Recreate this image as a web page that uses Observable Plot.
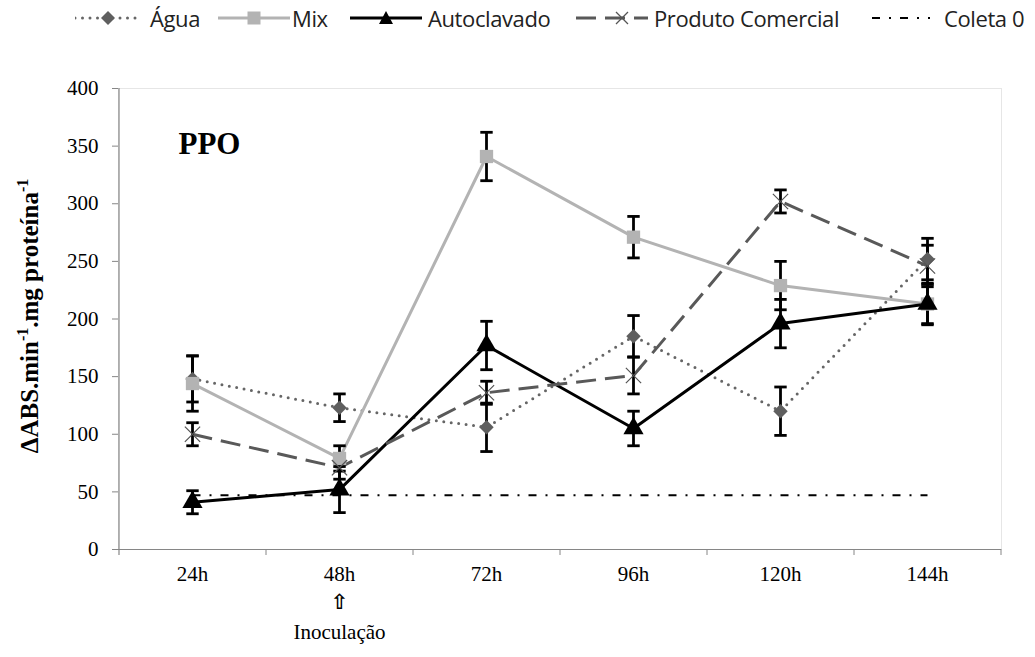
<!DOCTYPE html>
<html>
<head>
<meta charset="utf-8">
<script src="https://cdn.jsdelivr.net/npm/d3@7"></script>
<script src="https://cdn.jsdelivr.net/npm/@observablehq/plot@0.6"></script>
<style>
  body { margin: 0; background: #fff; }
  #wrap { position: relative; width: 1035px; height: 657px; overflow: hidden; }
  #chart { position: absolute; left: 0; top: 0; }
  .legend { position: absolute; top: 3px; left: 0; width: 1035px; height: 32px; font-family: "Open Sans", "Liberation Sans", sans-serif; font-size: 22px; color: #222; }
  .legend .sw { position: absolute; top: 5px; display: block; }
  .legend .lab { position: absolute; top: 0; white-space: nowrap; line-height: 30px; letter-spacing: -0.4px; }
  .plotframe rect { filter: drop-shadow(4px 4px 3px rgba(0,0,0,0.45)); }
</style>
</head>
<body>
<div id="wrap">
  <div id="chart"></div>
  <div class="legend" id="legend"></div>
</div>
<script>
// ---- data ----
const times = ["24h", "48h", "72h", "96h", "120h", "144h"];
const seriesNames = ["Água", "Mix", "Autoclavado", "Produto Comercial", "Coleta 0"];
const agua = [148, 123, 106, 185, 120, 252];
const aguaErr = [20, 12, 21, 18, 21, 18];
const mix = [144, 79, 341, 271, 229, 213];
const mixErr = [24, 11, 21, 18, 21, 18];
const autoclavado = [41, 52, 177, 105, 196, 213];
const autoclavadoErr = [10, 20, 21, 15, 21, 17];
const produto = [100, 71, 136, 151, 302, 246];
const produtoErr = [10, 10, 10, 16, 10, 18];
const coleta0 = [47, 47, 47, 47, 47, 47];
const yTicks = [0, 50, 100, 150, 200, 250, 300, 350, 400];

// ---- styles ----
const styles = {
  "Água": {stroke: "#666666", strokeWidth: 3, dash: "0 7.5", cap: "round"},
  "Mix": {stroke: "#b3b3b3", strokeWidth: 3, dash: null, cap: "butt"},
  "Autoclavado": {stroke: "#000000", strokeWidth: 3, dash: null, cap: "butt"},
  "Produto Comercial": {stroke: "#595959", strokeWidth: 3, dash: "20 9", cap: "butt"},
  "Coleta 0": {stroke: "#000000", strokeWidth: 2, dash: "8 9 2 9", cap: "butt"}
};

const values = [agua, mix, autoclavado, produto, coleta0];
const errs = [aguaErr, mixErr, autoclavadoErr, produtoErr, null];

const rows = seriesNames.flatMap((s, k) => times.map((t, i) => ({
  series: s, time: t, value: values[k][i], err: errs[k] ? errs[k][i] : null
})));
const errRows = rows.filter(d => d.err != null);
const bySeries = s => rows.filter(d => d.series === s);

const capSymbol = {
  draw(context, size) {
    const w = Math.sqrt(size) / 2;
    context.moveTo(-w, 0);
    context.lineTo(w, 0);
  }
};

const lineMark = s => Plot.line(bySeries(s), {
  x: "time", y: "value", stroke: styles[s].stroke, strokeWidth: styles[s].strokeWidth,
  strokeDasharray: styles[s].dash, strokeLinecap: styles[s].cap, strokeLinejoin: "round"
});

const plot = Plot.plot({
  width: 1035,
  height: 657,
  marginTop: 88,
  marginLeft: 118,
  marginRight: 34,
  marginBottom: 108,
  style: {fontFamily: "'Liberation Serif', 'Times New Roman', serif", fontSize: "21px", color: "#000", background: "transparent"},
  x: {type: "point", domain: times, padding: 0.5, label: null},
  y: {domain: [0, 400], label: null},
  marks: [
    Plot.frame({fill: "white", stroke: "#e6e6e6", className: "plotframe"}),
    Plot.ruleY([0], {stroke: "#868686", strokeWidth: 1.2}),
    Plot.ruleX([times[0]], {x: d => d, dx: -73.5, insetBottom: -6, stroke: "#868686", strokeWidth: 1.2}),
    Plot.ruleX(times, {x: d => d, dx: 73.5, y1: 0, y2: 0, insetBottom: -6, stroke: "#868686"}),
    Plot.axisY({ticks: yTicks, tickSize: 6, tickPadding: 14, stroke: "#868686", fontSize: 21, fill: "#000"}),
    Plot.axisX({tickSize: 0, tickPadding: 17, fontSize: 21, fill: "#000"}),
    lineMark("Coleta 0"),
    lineMark("Água"),
    lineMark("Mix"),
    lineMark("Autoclavado"),
    lineMark("Produto Comercial"),
    Plot.ruleX(errRows, {x: "time", y1: d => d.value - d.err, y2: d => d.value + d.err, stroke: "#000", strokeWidth: 2.8}),
    Plot.dot(errRows, {x: "time", y: d => d.value + d.err, symbol: capSymbol, r: 7, stroke: "#000", strokeWidth: 2.8, fill: "none"}),
    Plot.dot(errRows, {x: "time", y: d => d.value - d.err, symbol: capSymbol, r: 7, stroke: "#000", strokeWidth: 2.8, fill: "none"}),
    Plot.dot(bySeries("Água"), {x: "time", y: "value", symbol: "diamond2", r: 6.5, fill: "#5f5f5f", stroke: "none"}),
    Plot.dot(bySeries("Mix"), {x: "time", y: "value", symbol: "square", r: 7.5, fill: "#b3b3b3", stroke: "none"}),
    Plot.dot(bySeries("Autoclavado"), {x: "time", y: "value", symbol: "triangle", r: 7.5, fill: "#000", stroke: "none"}),
    Plot.dot(bySeries("Produto Comercial"), {x: "time", y: "value", symbol: "times", r: 7, stroke: "#555", strokeWidth: 1.2}),
    Plot.text(["PPO"], {x: () => "24h", y: () => 352, textAnchor: "start", dx: -14, fontSize: 31, fontWeight: "bold", fill: "#000"}),
    Plot.text(["⇧"], {x: () => "48h", frameAnchor: "bottom", dy: 59, fontSize: 21, fontWeight: "bold", fill: "#000", fontFamily: "DejaVu Sans"}),
    Plot.text(["Inoculação"], {x: () => "48h", frameAnchor: "bottom", dy: 89, fontSize: 21, fill: "#000"})
  ]
});

document.getElementById("chart").appendChild(plot);

// y axis title with superscripts
const svg = d3.select(plot);
const t = svg.append("text")
  .attr("transform", "translate(38,316) rotate(-90)")
  .attr("text-anchor", "middle")
  .attr("font-family", "'Liberation Serif', 'Times New Roman', serif")
  .attr("font-weight", "bold")
  .attr("font-size", 25)
  .attr("fill", "#000");
t.append("tspan").text("ΔABS.min");
t.append("tspan").attr("dy", -10).attr("font-size", 16).text("-1");
t.append("tspan").attr("dy", 10).text(".mg proteína");
t.append("tspan").attr("dy", -10).attr("font-size", 16).text("-1");

// ---- legend ----
const legendItems = [
  {name: "Água", sw: 75, w: 66, label: 150, marker: "diamond"},
  {name: "Mix", sw: 218, w: 72, label: 292, marker: "square"},
  {name: "Autoclavado", sw: 350, w: 72, label: 428, marker: "triangle"},
  {name: "Produto Comercial", sw: 576, w: 72, label: 654, marker: "times"},
  {name: "Coleta 0", sw: 872, w: 58, label: 944, marker: null}
];
const legend = d3.select("#legend");
legendItems.forEach(it => {
  const st = styles[it.name];
  const s = legend.append("svg").attr("class", "sw").style("left", it.sw + "px").attr("width", it.w).attr("height", 20);
  s.append("line").attr("x1", 0).attr("x2", it.w).attr("y1", 10).attr("y2", 10)
    .attr("stroke", st.stroke).attr("stroke-width", st.strokeWidth)
    .attr("stroke-dasharray", st.dash).attr("stroke-linecap", st.cap);
  const cx = it.w / 2;
  if (it.marker === "diamond") s.append("path").attr("d", `M${cx},3L${cx + 7},10L${cx},17L${cx - 7},10Z`).attr("fill", "#5f5f5f");
  if (it.marker === "square") s.append("rect").attr("x", cx - 6.5).attr("y", 3.5).attr("width", 13).attr("height", 13).attr("fill", "#b3b3b3");
  if (it.marker === "triangle") s.append("path").attr("d", `M${cx},3L${cx + 7},16L${cx - 7},16Z`).attr("fill", "#000");
  if (it.marker === "times") s.append("path").attr("d", `M${cx + 4},4L${cx + 16},16M${cx + 4},16L${cx + 16},4`).attr("stroke", "#555").attr("stroke-width", 1.3);
  legend.append("div").attr("class", "lab").style("left", it.label + "px").text(it.name);
});
</script>
</body>
</html>
